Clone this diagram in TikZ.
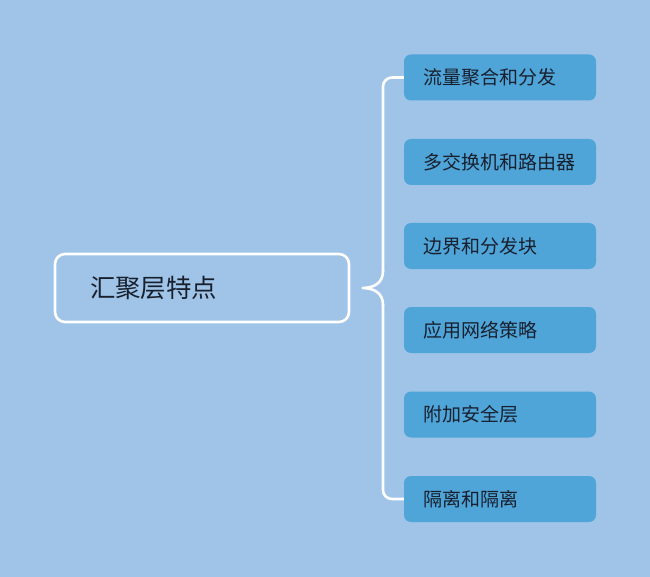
\documentclass[tikz,border=0pt]{standalone}
\usepackage{fontspec}
\setmainfont{Noto Sans CJK SC}
\definecolor{bgc}{HTML}{9FC4E7}
\definecolor{boxc}{HTML}{4FA5D8}
\definecolor{txtc}{HTML}{18202E}
\begin{document}
\begin{tikzpicture}[x=1pt,y=-1pt,
  mainbox/.style={draw=white,line width=2.6pt,rounded corners=10pt,fill=bgc,
    minimum width=294pt,minimum height=68pt,inner xsep=35pt,text width=224pt,align=left,
    font=\fontsize{25.4}{30}\selectfont,text=txtc},
  leaf/.style={fill=boxc,rounded corners=7pt,minimum width=192pt,minimum height=46pt,
    inner xsep=19pt,text width=154pt,align=left,font=\fontsize{19}{22}\selectfont,text=txtc},
  brace/.style={draw=white,line width=2.6pt}]
\fill[bgc] (0,0) rectangle (650,577);
\useasboundingbox (0,0) rectangle (650,577);
\node[mainbox] (main) at (202,288) {汇聚层特点};
\node[leaf] (b1) at (500,77.5) {流量聚合和分发};
\node[leaf] (b2) at (500,162) {多交换机和路由器};
\node[leaf] (b3) at (500,246) {边界和分发块};
\node[leaf] (b4) at (500,330) {应用网络策略};
\node[leaf] (b5) at (500,414.5) {附加安全层};
\node[leaf] (b6) at (500,499) {隔离和隔离};
\coordinate (tip) at (362,288);
\draw[brace,rounded corners=9pt] (b1.west) -- (383,77.5) -- (383,272);
\draw[brace] (383,271) .. controls (383,283) and (374,288) .. (tip)
  .. controls (374,288) and (383,293) .. (383,305);
\draw[brace,rounded corners=9pt] (383,304) -- (383,499) -- (b6.west);
\end{tikzpicture}
\end{document}
